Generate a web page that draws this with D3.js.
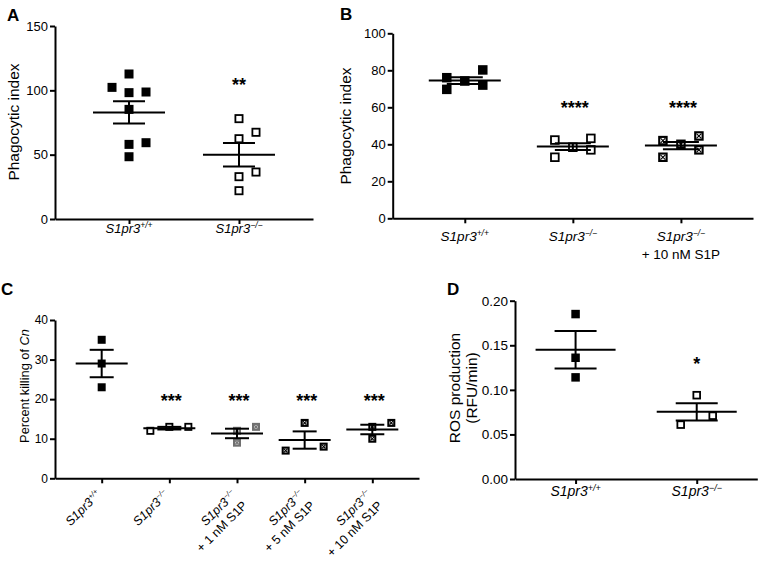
<!DOCTYPE html>
<html><head><meta charset="utf-8">
<script src="https://cdn.jsdelivr.net/npm/d3@7"></script>
<style>body{margin:0;background:#fff}svg{display:block;background:#fff}</style>
</head><body><svg id="c" width="763" height="564"></svg>
<script>
// ---------------- DATA ----------------
const genoA = ["+/+", "−/−"];
const treatA = ["", ""];
const valsA = [[112.7, 102.3, 98.2, 98.7, 85.2, 58.0, 59.3, 48.4], [78.0, 62.4, 67.4, 32.9, 36.5, 22.0]];
const slotsA = [[0, -1, 0, 1, 0, 0, 1, 0], [0, 0, 1, 0, 1, 0]];
const starsA = ["", "**"];
const ticksA = [0, 50, 100, 150];

const genoB = ["+/+", "−/−", "−/−"];
const treatB = ["", "", "+ 10 nM S1P"];
const valsB = [[76, 69.7, 74.2, 80.2, 72], [42.3, 33, 38.4, 43.2, 37], [42, 33, 40, 44.5, 37]];
const slotsB = [[-1, -1, 0, 1, 1], [-1, -1, 0, 1, 1], [-1, -1, 0, 1, 1]];
const starsB = ["", "****", "****"];
const ticksB = [0, 20, 40, 60, 80, 100];

const genoC = ["+/+", "−/−", "−/−", "−/−", "−/−"];
const treatC = ["", "", "+ 1 nM S1P", "+ 5 nM S1P", "+ 10 nM S1P"];
const valsC = [[35, 29, 23], [12, 13, 13], [12, 9, 13], [14, 7, 8], [13, 10, 14]];
const slotsC = [[0, 0, 0], [-1, 0, 1], [0, 0, 1], [0, -1, 1], [0, 0, 1]];
const starsC = ["", "***", "***", "***", "***"];
const ticksC = [0, 10, 20, 30, 40];

const genoD = ["+/+", "−/−"];
const treatD = ["", ""];
const valsD = [[0.185, 0.136, 0.114], [0.094, 0.061, 0.071]];
const slotsD = [[0, 0, 0], [0, -1, 1]];
const starsD = ["", "*"];
const ticksD = [0, 0.05, 0.10, 0.15, 0.20];

// marker styles per group
const markA = ["filled", "open"];
const markB = ["filled", "open", "cross"];
const markC = ["filled", "open", "crossGray", "cross", "cross"];
const markD = ["filled", "open"];

// ---------------- DRAW ----------------
const FONT = "'Liberation Sans', Arial, Helvetica, sans-serif";
const svg = d3.select("#c");

function drawMarker(g, cx, cy, s, type) {
  const h = s / 2;
  if (type === "filled") {
    g.append("rect").attr("x", cx - h).attr("y", cy - h).attr("width", s).attr("height", s).attr("fill", "#000");
    return;
  }
  const gray = type === "crossGray";
  const col = gray ? "#707070" : "#000";
  const sw = type === "open" ? 1.8 : 2.1;
  g.append("rect").attr("x", cx - h + sw / 2).attr("y", cy - h + sw / 2)
    .attr("width", s - sw).attr("height", s - sw)
    .attr("fill", gray ? "#d0d0d0" : "#fff").attr("stroke", col).attr("stroke-width", sw);
  if (type !== "open") {
    const d = h - sw - 0.2;
    g.append("path").attr("d", `M${cx - d},${cy - d}L${cx + d},${cy + d}M${cx + d},${cy - d}L${cx - d},${cy + d}`)
      .attr("stroke", col).attr("stroke-width", 1.1).attr("fill", "none");
  }
}

function geneText(sel, geno, font, supFont) {
  sel.attr("font-family", FONT).attr("font-size", font).attr("font-style", "italic").attr("fill", "#000");
  sel.append("tspan").text("S1pr3");
  sel.append("tspan").attr("font-size", supFont).attr("dy", -font * 0.38).text(geno);
}

function drawPanel(p) {
  const n = p.vals.length;
  const g = svg.append("g");
  const x = d3.scalePoint().domain(d3.range(n)).range([p.left, p.right]).padding(p.pad);
  const y = d3.scaleLinear().domain([p.ticks[0], p.ticks[p.ticks.length - 1]]).range([p.bottom, p.top]);

  const ya = g.append("g").attr("transform", `translate(${p.left},0)`)
    .call(d3.axisLeft(y).tickValues(p.ticks).tickSize(5).tickSizeOuter(0).tickPadding(2)
      .tickFormat(p.fmt || d3.format("d")));
  const xa = g.append("g").attr("transform", `translate(0,${p.bottom})`)
    .call(d3.axisBottom(x).tickSize(5).tickSizeOuter(0).tickFormat(""));
  [ya, xa].forEach(a => {
    a.select(".domain").attr("stroke", "#000").attr("stroke-width", 2);
    a.selectAll(".tick line").attr("stroke", "#000").attr("stroke-width", 2);
  });
  ya.selectAll(".tick text").attr("font-family", FONT).attr("font-size", p.tickFont).attr("fill", "#000");

  // points
  p.vals.forEach((vs, i) => {
    vs.forEach((v, j) => drawMarker(g, x(i) + p.slots[i][j] * p.spacing, y(v), p.size, p.marks[i]));
  });
  // mean +/- SEM
  p.vals.forEach((vs, i) => {
    const cx = x(i);
    const m = d3.mean(vs), se = d3.deviation(vs) / Math.sqrt(vs.length);
    const lines = [
      [cx - p.meanHalf, y(m), cx + p.meanHalf, y(m)],
      [cx, y(m - se), cx, y(m + se)],
      [cx - p.whisk, y(m + se), cx + p.whisk, y(m + se)],
      [cx - p.whisk, y(m - se), cx + p.whisk, y(m - se)]
    ];
    lines.forEach(l => g.append("line").attr("x1", l[0]).attr("y1", l[1]).attr("x2", l[2]).attr("y2", l[3])
      .attr("stroke", "#000").attr("stroke-width", 2));
    if (p.stars[i]) {
      g.append("text").attr("x", cx + (p.starDx || 0)).attr("y", p.starY).attr("text-anchor", "middle")
        .attr("font-family", FONT).attr("font-weight", "bold").attr("font-size", 18).text(p.stars[i]);
    }
    // category labels
    if (p.rotate) {
      const gl = g.append("g").attr("transform", `translate(${cx + p.rotDx},${p.bottom + p.rotDy}) rotate(-45)`);
      geneText(gl.append("text").attr("text-anchor", "end"), p.geno[i], p.labelFont, p.supFont);
      if (p.treat[i]) {
        gl.append("text").attr("text-anchor", "end").attr("y", p.lineH)
          .attr("font-family", FONT).attr("font-size", p.labelFont).attr("fill", "#000").text(p.treat[i]);
      }
    } else {
      geneText(g.append("text").attr("x", cx).attr("y", p.labelY).attr("text-anchor", "middle"),
        p.geno[i], p.labelFont, p.supFont);
      if (p.treat[i]) {
        g.append("text").attr("x", cx).attr("y", p.labelY + p.lineH).attr("text-anchor", "middle")
          .attr("font-family", FONT).attr("font-size", p.labelFont).attr("fill", "#000").text(p.treat[i]);
      }
    }
  });

  // y title
  p.title.forEach((t, k) => {
    const tx = g.append("text").attr("transform", `translate(${p.titleX[k]},${p.titleY}) rotate(-90)`)
      .attr("text-anchor", "middle").attr("dy", "0.35em")
      .attr("font-family", FONT).attr("font-size", p.titleFont).attr("fill", "#000");
    t.forEach(seg => tx.append("tspan").attr("font-style", seg.it ? "italic" : "normal").text(seg.s));
  });
  // panel letter
  g.append("text").attr("x", p.letterX).attr("y", p.letterY).attr("font-family", FONT)
    .attr("font-weight", "bold").attr("font-size", 17).text(p.letter);
}

drawPanel({
  vals: valsA, slots: slotsA, stars: starsA, ticks: ticksA, geno: genoA, treat: treatA, marks: markA,
  left: 55, right: 313, top: 26, bottom: 219, pad: 0.673, spacing: 17, size: 9, meanHalf: 36, whisk: 16,
  tickFont: 13, labelY: 233, labelFont: 13, supFont: 8.5, lineH: 18, starY: 91,
  title: [[{ s: "Phagocytic index" }]], titleFont: 15.5, titleX: [14], titleY: 122,
  letter: "A", letterX: 7, letterY: 21
});
drawPanel({
  vals: valsB, slots: slotsB, stars: starsB, ticks: ticksB, geno: genoB, treat: treatB, marks: markB,
  left: 392.7, right: 753, top: 33.3, bottom: 218.3, pad: 0.667, spacing: 18, size: 9.5, meanHalf: 36, whisk: 18,
  tickFont: 13, labelY: 241, labelFont: 13.5, supFont: 8.5, lineH: 18, starY: 113.5, starDx: 2,
  title: [[{ s: "Phagocytic index" }]], titleFont: 15.5, titleX: [346], titleY: 126,
  letter: "B", letterX: 340, letterY: 20
});
drawPanel({
  vals: valsC, slots: slotsC, stars: starsC, ticks: ticksC, geno: genoC, treat: treatC, marks: markC,
  left: 55, right: 419, top: 320, bottom: 478.3, pad: 0.69, spacing: 19, size: 8, meanHalf: 26, whisk: 12,
  tickFont: 12, rotate: true, rotDx: 0, rotDy: 17, labelFont: 12.5, supFont: 7.5, lineH: 15.5, starY: 406.8, starDx: 2,
  title: [[{ s: "Percent killing of " }, { s: "Cn", it: true }]], titleFont: 12.8, titleX: [25], titleY: 386,
  letter: "C", letterX: 1, letterY: 295
});
drawPanel({
  vals: valsD, slots: slotsD, stars: starsD, ticks: ticksD, geno: genoD, treat: treatD, marks: markD,
  left: 515, right: 757.3, top: 300.7, bottom: 479, pad: 0.5, spacing: 16, size: 8.5, meanHalf: 40, whisk: 21,
  tickFont: 13.5, fmt: d3.format(".2f"), labelY: 496, labelFont: 14, supFont: 9, lineH: 18, starY: 370.3,
  title: [[{ s: "ROS production" }], [{ s: "(RFU/min)" }]], titleFont: 15.5, titleX: [455, 472], titleY: 388,
  letter: "D", letterX: 447, letterY: 295
});
</script>
</body></html>
